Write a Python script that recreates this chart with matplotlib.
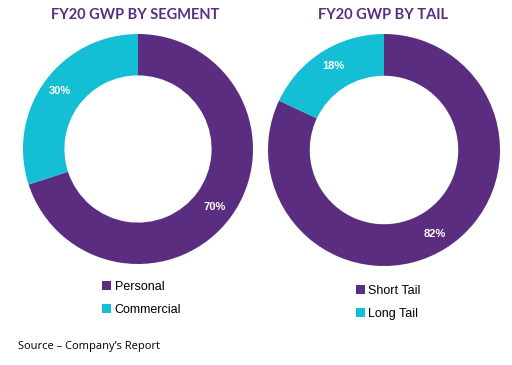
import matplotlib
matplotlib.use("Agg")
import matplotlib.pyplot as plt
from matplotlib.patches import Patch

# data
seg_labels = ["Personal", "Commercial"]
seg_values = [70, 30]
tail_labels = ["Short Tail", "Long Tail"]
tail_values = [82, 18]
titles = ["FY20 GWP BY SEGMENT", "FY20 GWP BY TAIL"]

purple = "#5A2D81"
cyan = "#14BED5"
colors = [purple, cyan]

W, H = 512, 365
fig = plt.figure(figsize=(W / 100, H / 100), dpi=100)


def px_axes(cx, cy, r):
    return fig.add_axes([(cx - r) / W, (H - cy - r) / H, 2 * r / W, 2 * r / H])


def donut(ax, values, label_pos):
    ax.pie(values, colors=colors, startangle=90, counterclock=False,
           radius=1.0, wedgeprops=dict(width=0.36, edgecolor="none"))
    ax.set_xlim(-1, 1)
    ax.set_ylim(-1, 1)
    ax.set_aspect("equal")
    ax.axis("off")
    for v, (x, y) in zip(values, label_pos):
        ax.text(x, y, f"{v}%", color="white", fontsize=8, fontweight="bold",
                ha="center", va="center", family="Liberation Sans")


ax1 = px_axes(138, 149, 115)
donut(ax1, seg_values, [(0.67, -0.50), (-0.68, 0.50)])

ax2 = px_axes(384, 150, 116)
donut(ax2, tail_values, [(0.44, -0.72), (-0.44, 0.72)])

# titles
fig.text(135 / W, 1 - 15 / H, titles[0], color=purple, fontsize=10.5,
         family="Lato", fontweight="bold", ha="center", va="center")
fig.text(383 / W, 1 - 15 / H, titles[1], color=purple, fontsize=10.5,
         family="Lato", fontweight="bold", ha="center", va="center")

# legends
def legend_at(labels, x, y):
    handles = [Patch(facecolor=c, edgecolor="none") for c in colors]
    fig.legend(handles, labels, loc="upper left", bbox_to_anchor=(x / W, 1 - y / H),
               frameon=False, handlelength=0.7, handleheight=0.7, handletextpad=0.3,
               labelspacing=0.85, borderpad=0, borderaxespad=0,
               prop=dict(family="Liberation Sans", size=9))

legend_at(seg_labels, 102, 281)
legend_at(tail_labels, 356, 285)

fig.text(18 / W, 1 - 346 / H, "Source \u2013 Company\u2019s Report", fontsize=8,
         family="Open Sans", ha="left", va="center", color="black")

fig.savefig("out.png", dpi=100)
